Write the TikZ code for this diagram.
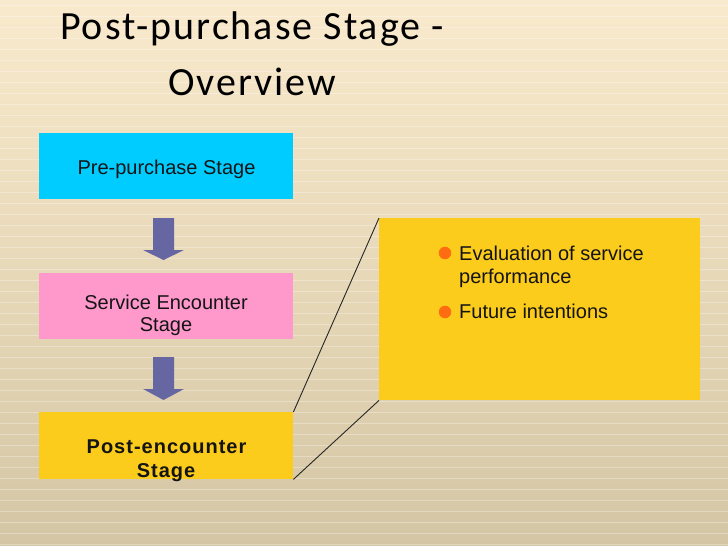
\documentclass[tikz,border=0pt]{standalone}
\usepackage{fontspec}
\setmainfont{Liberation Sans}
\newfontfamily\titlefont[LetterSpace=5]{Carlito}
\newfontfamily\spacedbold[LetterSpace=5]{Liberation Sans Bold}
\definecolor{bgtop}{RGB}{250,234,205}
\definecolor{bgbot}{RGB}{212,198,164}
\definecolor{cyanbox}{RGB}{0,204,255}
\definecolor{pinkbox}{RGB}{255,153,204}
\definecolor{yellowbox}{RGB}{251,204,28}
\definecolor{arrowcol}{RGB}{102,102,162}
\definecolor{bulletcol}{RGB}{255,108,18}
\definecolor{textcol}{RGB}{20,20,20}
\tikzset{
  stagebox/.style={rectangle, draw=none, inner sep=0pt, minimum width=254pt, minimum height=66pt, anchor=north west},
  boxtext/.style={anchor=base, inner sep=0pt, text=textcol, font=\fontsize{20}{24}\selectfont},
  titletext/.style={anchor=base, inner sep=0pt, font=\titlefont\fontsize{40}{44}\selectfont, text=black},
  blockarrow/.style={fill=arrowcol, draw=none},
  link/.style={draw=black!85, line width=0.9pt},
  bullet/.style={circle, fill=bulletcol, inner sep=0pt, minimum size=12.5pt},
}
\begin{document}
\begin{tikzpicture}[x=1pt, y=-1pt]
\useasboundingbox (0,0) rectangle (728,546);
% background
\shade[top color=bgtop, bottom color=bgbot] (0,0) rectangle (728,546);
\foreach \yy in {5,16,27,38,49,60,71,82,93,104,115,126,137,148,159,170,181,192,203,214,225,236,247,258,269,280,291,302,313,324,335,346,357,368,379,390,401,412,423,434,445,456,467,478,489,500,511,522,533,544}
  \draw[white, opacity=0.3, line width=0.8pt] (0,\yy) -- (728,\yy);
% title
\node[titletext] (t1) at (252,39) {Post-purchase Stage -};
\node[titletext] (t2) at (252,95) {Overview};
% boxes
\node[stagebox, fill=cyanbox] (pre) at (39,133) {};
\node[stagebox, fill=pinkbox] (enc) at (39,273) {};
\node[stagebox, fill=yellowbox, minimum height=67pt] (post) at (39,412) {};
\node[rectangle, draw=none, fill=yellowbox, inner sep=0pt, minimum width=321pt, minimum height=182pt, anchor=north west] (detail) at (379,218) {};
% box texts
\node[boxtext] (pretext) at (166.5,174) {Pre-purchase Stage};
\node[boxtext] (enctext1) at (166,309) {Service Encounter};
\node[boxtext] (enctext2) at (166,331) {Stage};
\node[boxtext, font=\spacedbold\fontsize{20}{24}\selectfont] (posttext1) at (166.5,453) {Post-encounter};
\node[boxtext, font=\spacedbold\fontsize{20}{24}\selectfont] (posttext2) at (166,477) {Stage};
% block arrows
\fill[blockarrow] (153,218) -- (174,218) -- (174,250) -- (184,250) -- (163.5,260) -- (143,250) -- (153,250) -- cycle;
\fill[blockarrow] (153,357) -- (174,357) -- (174,389) -- (184,389) -- (163.5,400) -- (143,389) -- (153,389) -- cycle;
% links
\draw[link] (post.north east) -- (detail.north west);
\draw[link] (post.south east) -- (detail.south west);
% bullets
\node[bullet] (b1) at (445,253) {};
\node[bullet] (b2) at (445,312) {};
\node[boxtext, anchor=base west] (bt1) at (459,260) {Evaluation of service};
\node[boxtext, anchor=base west] (bt1b) at (459,283) {performance};
\node[boxtext, anchor=base west] (bt2) at (459,318) {Future intentions};
\end{tikzpicture}
\end{document}
